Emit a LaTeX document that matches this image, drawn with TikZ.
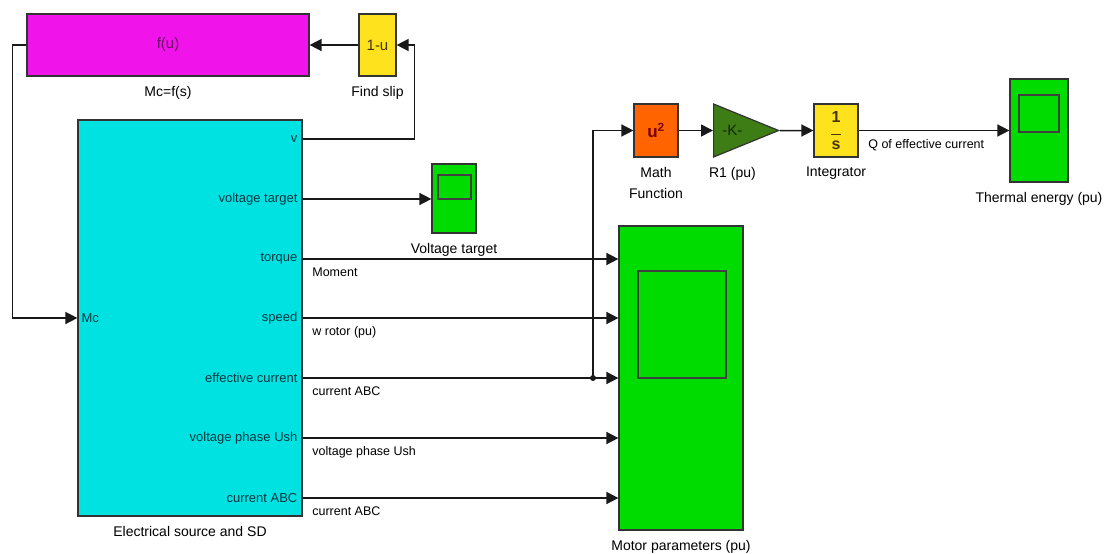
\documentclass[tikz,border=0pt]{standalone}
\usepackage{fontspec}
\setmainfont{Liberation Sans}
\usepackage{tikz}
\usetikzlibrary{shapes.geometric, arrows.meta}
\usepackage{xcolor}

\definecolor{fcnmag}{RGB}{240,20,235}
\definecolor{fcntxt}{RGB}{110,10,100}
\definecolor{subcyan}{RGB}{0,226,226}
\definecolor{subtxt}{RGB}{0,55,65}
\definecolor{slipyel}{RGB}{255,226,30}
\definecolor{sliptxt}{RGB}{70,55,0}
\definecolor{scopegrn}{RGB}{0,220,0}
\definecolor{mathorg}{RGB}{255,100,0}
\definecolor{mathtxt}{RGB}{120,0,0}
\definecolor{gaingrn}{RGB}{62,125,22}
\definecolor{gaintxt}{RGB}{20,40,0}

\begin{document}
\begin{tikzpicture}[x=1pt, y=-1pt,
    blk/.style={draw=black!80, line width=1.2pt, inner sep=0pt},
    scr/.style={draw=black!75, line width=1.8pt, inner sep=0pt},
    sig/.style={draw=black!90, line width=1.5pt, -{Triangle[length=12pt,width=12pt]}},
    blktxt/.style={font=\fontsize{14}{21}\selectfont},
    lbl/.style={font=\fontsize{12.5}{14}\selectfont, anchor=north west, inner sep=0pt},
    port/.style={font=\fontsize{13}{15}\selectfont, anchor=east, inner sep=0pt, text=subtxt}]
    \useasboundingbox (0,0) rectangle (1104,554);

    % top feedback blocks
    \node[blk, fill=fcnmag, text=fcntxt, font=\fontsize{15}{17}\selectfont, minimum width=282pt, minimum height=62pt,
        label={[blktxt, label distance=6pt]below:Mc=f(s)}] (fcn) at (168,45) {f(u)};
    \node[blk, fill=slipyel, text=sliptxt, font=\fontsize{15}{17}\selectfont, minimum width=37pt, minimum height=62pt,
        label={[blktxt, label distance=6pt]below:Find slip}] (slip) at (377.5,45) {1-u};

    % subsystem
    \node[blk, fill=subcyan, minimum width=224pt, minimum height=396pt,
        label={[blktxt, label distance=6pt]below:Electrical source and SD}] (elec) at (190,318) {};
    \node[port, anchor=west] at ([xshift=4pt]elec.west) {Mc};
    \foreach \nm/\yy/\txt in {pv/139/v, pvt/199/voltage target, pt/259/torque, ps/318/speed,
        pe/378/effective current, pu/438/voltage phase Ush, pa/498/current ABC}{
        \coordinate (\nm) at (elec.east |- 0,\yy);
        \node[port] at ([xshift=-5pt]\nm) {\txt};
    }

    % scopes
    \node[blk, fill=scopegrn, minimum width=44pt, minimum height=69pt,
        label={[blktxt, label distance=6pt]below:Voltage target}] (vscope) at (454,198.5) {};
    \node[scr, minimum width=33pt, minimum height=24pt] (vscr) at (454.5,187) {};
    \node[blk, fill=scopegrn, minimum width=124pt, minimum height=304pt,
        label={[blktxt, label distance=6pt]below:Motor parameters (pu)}] (mscope) at (681,378) {};
    \node[scr, minimum width=88pt, minimum height=107pt] (mscr) at (682,324.5) {};
    \node[blk, fill=scopegrn, minimum width=58pt, minimum height=103pt,
        label={[blktxt, label distance=6pt]below:Thermal energy (pu)}] (tscope) at (1039,130.5) {};
    \node[scr, minimum width=40pt, minimum height=37pt] (tscr) at (1039,113.5) {};

    % thermal chain
    \node[blk, fill=mathorg, text=mathtxt, font=\fontsize{17}{19}\selectfont, minimum width=44pt, minimum height=53pt,
        label={[blktxt, align=center, label distance=6pt]below:Math\\Function}] (math) at (656,130.5)
        {\textbf{u}\textsuperscript{\textbf{2}}};
    \node[blk, shape=isosceles triangle, isosceles triangle stretches, fill=gaingrn, text=gaintxt,
        font=\fontsize{15}{17}\selectfont, minimum width=53pt, minimum height=65pt, anchor=west] (gain) at (713,130.5) {-K-};
    \node[blktxt, anchor=north] (gainlbl) at ([yshift=-6pt]gain.center |- math.south) {R1 (pu)};
    \node[blk, fill=slipyel, text=sliptxt, font=\fontsize{16}{16}\selectfont, align=center,
        minimum width=44pt, minimum height=53pt,
        label={[blktxt, label distance=6pt]below:Integrator}] (integ) at (836,130.5)
        {\textbf{1}\\[-3.5pt]\rule{10pt}{1.5pt}\\[-2pt]\textbf{s}};

    % signals
    \draw[sig] (slip.west) -- (fcn.east);
    \draw[sig] (pv) -| ([xshift=18pt]slip.east) -- (slip.east);
    \draw[sig] (fcn.west) -- ++(-14,0) |- (elec.west);
    \draw[sig] (pvt) -- (pvt -| vscope.west);
    \draw[sig] (pt) -- (pt -| mscope.west) node[pos=0, lbl, xshift=9pt, yshift=-8pt] {Moment};
    \draw[sig] (ps) -- (ps -| mscope.west) node[pos=0, lbl, xshift=9pt, yshift=-8pt] {w rotor (pu)};
    \draw[sig] (pe) -- (pe -| mscope.west) node[pos=0, lbl, xshift=9pt, yshift=-8pt] {current ABC};
    \draw[sig] (pu) -- (pu -| mscope.west) node[pos=0, lbl, xshift=9pt, yshift=-8pt] {voltage phase Ush};
    \draw[sig] (pa) -- (pa -| mscope.west) node[pos=0, lbl, xshift=9pt, yshift=-8pt] {current ABC};
    \coordinate (jn) at (593,378);
    \fill[black!90] (jn) circle (3pt);
    \draw[sig] (jn) |- (math.west);
    \draw[sig] (math.east) -- (gain.west);
    \draw[sig] (gain.apex) -- (integ.west);
    \draw[sig] (integ.east) -- (tscope.west) node[pos=0, lbl, xshift=9pt, yshift=-8pt] {Q of effective current};
\end{tikzpicture}
\end{document}
